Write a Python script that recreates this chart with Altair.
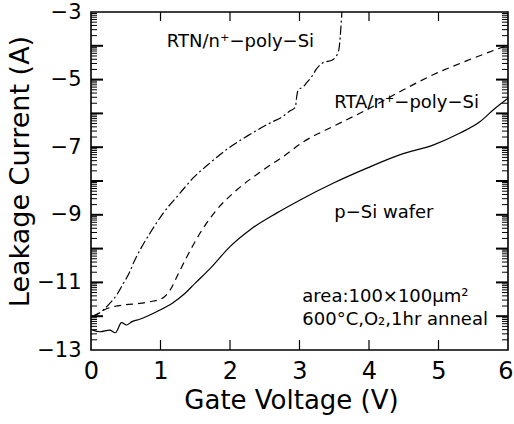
import altair as alt
import pandas as pd
import numpy as np

# ---- data (gate voltage in V, log10 leakage current in A)
rtn_v = [0.02, 0.08, 0.18, 0.27, 0.37, 0.46, 0.56, 0.61, 0.73, 0.85, 1.04, 1.28, 1.47,
         1.71, 1.95, 2.24, 2.58, 2.76, 2.86, 2.94, 2.96, 2.98, 3.05, 3.10, 3.18, 3.24,
         3.33, 3.48, 3.56, 3.61]
rtn_i = [-12.02, -11.96, -11.81, -11.62, -11.37, -11.05, -10.68, -10.43, -9.95, -9.54,
         -8.95, -8.36, -7.91, -7.47, -7.07, -6.68, -6.28, -6.09, -5.93, -5.82, -5.50,
         -5.30, -5.22, -5.10, -4.90, -4.70, -4.51, -4.41, -4.17, -3.0]

rta_v = [0.02, 0.10, 0.20, 0.32, 0.50, 0.70, 0.90, 1.00, 1.08, 1.14, 1.26, 1.38, 1.57,
         1.81, 2.10, 2.48, 2.77, 3.05, 3.49, 3.97, 4.45, 4.93, 5.41, 5.96, 6.0]
rta_i = [-12.0, -11.92, -11.80, -11.72, -11.66, -11.62, -11.55, -11.50, -11.38, -11.22,
         -10.73, -10.24, -9.54, -8.85, -8.26, -7.67, -7.27, -6.85, -6.38, -5.89, -5.35,
         -4.85, -4.44, -4.01, -3.98]

psi_v = [0.02, 0.13, 0.27, 0.35, 0.44, 0.51, 0.59, 0.70, 0.95, 1.18, 1.35, 1.50, 1.71,
         2.00, 2.29, 2.67, 3.01, 3.49, 3.97, 4.45, 4.93, 5.31, 5.60, 5.79, 6.0]
psi_i = [-12.41, -12.46, -12.41, -12.49, -12.19, -12.26, -12.16, -12.09, -11.86, -11.60,
         -11.33, -11.02, -10.60, -9.94, -9.44, -8.95, -8.56, -8.06, -7.62, -7.22, -6.93,
         -6.58, -6.24, -5.89, -5.55]

x_ticks = [0, 1, 2, 3, 4, 5, 6]
x_inner_ticks = [1, 2, 3, 4, 5]
y_labels = [-13, -11, -9, -7, -5, -3]
y_major = [-12, -11, -10, -9, -8, -7, -6, -5, -4]
decades = list(range(-13, -3))

ann_text = ["RTN/n\u207a\u2212poly\u2212Si", "RTA/n\u207a\u2212poly\u2212Si", "p\u2212Si  wafer",
            "area:100\u00d7100\u03bcm\u00b2", "600\u00b0C,O\u2082,1hr  anneal"]
ann_v = [1.09, 3.50, 3.50, 3.04, 3.04]
ann_i = [-3.90, -5.68, -8.94, -11.43, -12.11]

# ---- layout
W, H = 417, 338
FONT = "DejaVu Sans"

x_scale = alt.Scale(domain=[0, 6], nice=False, zero=False)
y_scale = alt.Scale(domain=[-13, -3], nice=False, zero=False)

x_axis = alt.Axis(values=x_ticks, format="d", tickSize=0, domain=False, grid=False,
                  labelFont=FONT, labelFontSize=24, labelColor="black", labelPadding=9,
                  labelOffset=alt.condition("datum.value == 6", alt.value(5), alt.value(0)),
                  labelAlign=alt.condition("datum.value == 6", alt.value("right"), alt.value("center")),
                  title="Gate Voltage (V)", titleFont=FONT, titleFontSize=26,
                  titleFontWeight="normal", titleColor="black", titlePadding=4,
                  titleX=200, labelFlush=False)
y_axis = alt.Axis(values=y_labels, format="d", tickSize=0, domain=False, grid=False,
                  labelFont=FONT, labelFontSize=21, labelColor="black", labelPadding=10,
                  title="Leakage Current (A)", titleFont=FONT, titleFontSize=27,
                  titleFontWeight="normal", titleColor="black", titlePadding=2,
                  titleY=159, labelFlush=False)

X = lambda f: alt.X(f, type="quantitative", scale=x_scale, axis=x_axis)
Y = lambda f: alt.Y(f, type="quantitative", scale=y_scale, axis=y_axis)

df_rtn = pd.DataFrame({"v": rtn_v, "i": rtn_i, "k": range(len(rtn_v))})
df_rta = pd.DataFrame({"v": rta_v, "i": rta_i, "k": range(len(rta_v))})
df_psi = pd.DataFrame({"v": psi_v, "i": psi_i, "k": range(len(psi_v))})

rtn = alt.Chart(df_rtn).mark_line(color="black", strokeWidth=1.2, strokeDash=[9, 3, 2, 3],
                                  interpolate="monotone", clip=True).encode(x=X("v"), y=Y("i"), order="k:Q")
rta = alt.Chart(df_rta).mark_line(color="black", strokeWidth=1.2, strokeDash=[7, 5],
                                  interpolate="monotone", clip=True).encode(x=X("v"), y=Y("i"), order="k:Q")
psi = alt.Chart(df_psi).mark_line(color="black", strokeWidth=1.2,
                                  interpolate="monotone", clip=True).encode(x=X("v"), y=Y("i"), order="k:Q")

# inward tick marks
df_xt = pd.DataFrame({"v": x_inner_ticks})
df_ymaj = pd.DataFrame({"i": y_major})
minor = [d + np.log10(k) for d in decades for k in range(2, 10)]
df_ymin = pd.DataFrame({"i": minor})

tick_style = dict(color="black", strokeWidth=1.2)
xt_bot = alt.Chart(df_xt).mark_rule(**tick_style).encode(x=X("v"), y=alt.value(H), y2=alt.value(H - 10))
xt_top = alt.Chart(df_xt).mark_rule(**tick_style).encode(x=X("v"), y=alt.value(0), y2=alt.value(9))
yl_maj = alt.Chart(df_ymaj).mark_rule(color="black", strokeWidth=2).encode(y=Y("i"), x=alt.value(0), x2=alt.value(12))
yr_maj = alt.Chart(df_ymaj).mark_rule(color="black", strokeWidth=2).encode(y=Y("i"), x=alt.value(W), x2=alt.value(W - 12))
yl_min = alt.Chart(df_ymin).mark_rule(color="black", strokeWidth=1).encode(y=Y("i"), x=alt.value(0), x2=alt.value(6))
yr_min = alt.Chart(df_ymin).mark_rule(color="black", strokeWidth=1).encode(y=Y("i"), x=alt.value(W), x2=alt.value(W - 6))

df_ann = pd.DataFrame({"v": ann_v, "i": ann_i, "t": ann_text})
ann = alt.Chart(df_ann).mark_text(align="left", baseline="middle", font=FONT, fontSize=18,
                                  color="black").encode(x=X("v"), y=Y("i"), text="t:N")

chart = alt.layer(yl_min, yr_min, yl_maj, yr_maj, xt_bot, xt_top, rtn, rta, psi, ann).properties(
    width=W, height=H,
    autosize=alt.AutoSizeParams(type="none"),
    padding={"left": 91, "top": 12, "right": 6, "bottom": 74},
    background="white",
).configure_view(stroke="black", strokeWidth=1.6)

chart.save("out.html", embed_options={"renderer": "svg", "actions": False})
